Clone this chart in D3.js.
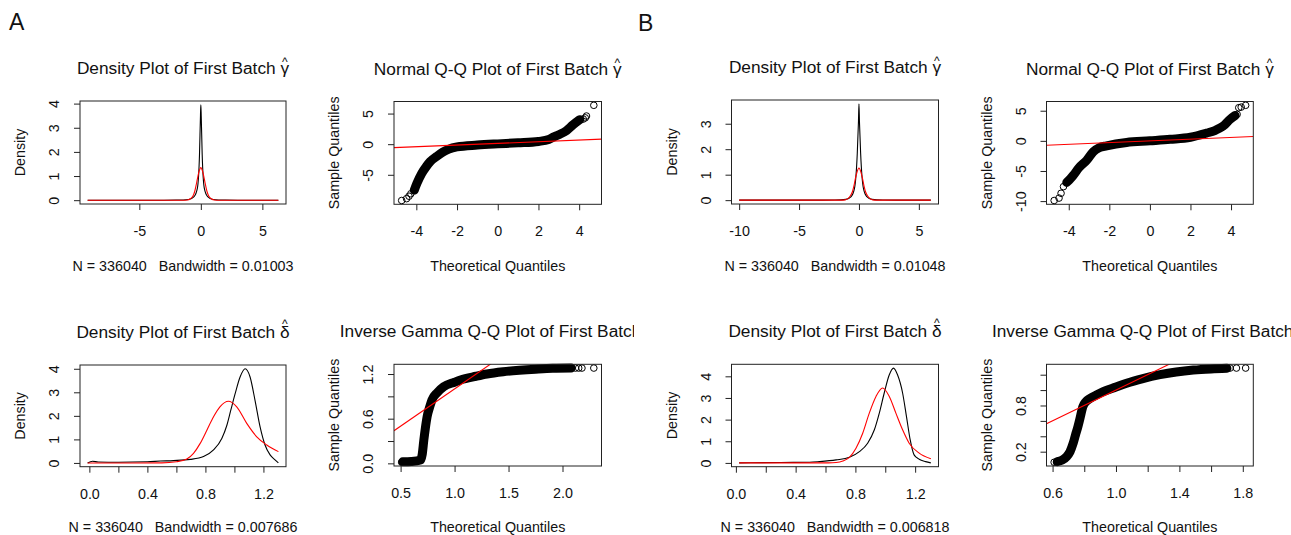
<!DOCTYPE html>
<html>
<head>
<meta charset="utf-8">
<script src="https://cdn.jsdelivr.net/npm/d3@7"></script>
<style>
  body { margin: 0; background: #fff; }
  svg { display: block; }
</style>
</head>
<body>
<svg id="fig" width="1291" height="535"></svg>
<script>
// ================= Panel A =================
// Density of gamma-hat: kernel estimate (black) and fitted normal (red)
const aGammaDensX  = [-9.2, -3, -2, -1, -0.55, -0.28, -0.11, -0.03, 0, 0.03, 0.11, 0.28, 0.55, 1, 2, 3, 6.3];
const aGammaDensY  = [0, 0, 0.005, 0.03, 0.15, 0.5, 1.88, 3.5, 3.95, 3.5, 1.88, 0.5, 0.15, 0.03, 0.005, 0, 0];
const aGammaFitX   = [-9.2, -3, -1.5, -1.1, -0.85, -0.65, -0.5, -0.4, -0.28, -0.15, 0, 0.15, 0.28, 0.4, 0.5, 0.65, 0.85, 1.1, 1.5, 3, 6.3];
const aGammaFitY   = [0, 0, 0, 0.01, 0.06, 0.16, 0.36, 0.58, 0.88, 1.18, 1.35, 1.18, 0.88, 0.58, 0.36, 0.16, 0.06, 0.01, 0, 0, 0];

// Normal Q-Q of gamma-hat: dense band of points plus the sparse tail points
const aGammaQQBandX = [-4.1, -3.97, -3.73, -3.5, -3.32, -3.0, -2.7, -2.4, -2.0, -1.0, 0, 1.0, 2.0, 2.5, 2.73, 3.0, 3.38, 3.7, 4.03];
const aGammaQQBandY = [-7.5, -6.4, -4.75, -3.6, -2.85, -2.0, -1.3, -0.8, -0.45, -0.15, 0.05, 0.22, 0.45, 0.75, 1.15, 1.55, 2.23, 3.16, 4.0];
const aGammaQQTailX = [-4.72, -4.48, -4.36, -4.27, 4.2, 4.3, 4.36, 4.72];
const aGammaQQTailY = [-9.2, -8.9, -8.5, -8.1, 4.1, 4.3, 4.6, 6.35];
const aGammaQQLine  = { intercept: 0.13, slope: 0.136 };

// Density of delta-hat: kernel estimate (black) and fitted inverse gamma (red)
const aDeltaDensX = [-0.012, 0.022, 0.06, 0.2, 0.4, 0.49, 0.58, 0.695, 0.787, 0.856, 0.913, 0.948, 0.975, 1.005, 1.039, 1.074, 1.108, 1.142, 1.177, 1.211, 1.246, 1.28, 1.303];
const aDeltaDensY = [0, 0.07, 0.04, 0.03, 0.05, 0.08, 0.1, 0.15, 0.27, 0.55, 1.04, 1.6, 2.24, 2.94, 3.65, 4.0, 3.65, 2.66, 1.53, 0.76, 0.34, 0.13, 0];
const aDeltaFitX  = [-0.012, 0.3, 0.5, 0.6, 0.672, 0.718, 0.764, 0.81, 0.856, 0.9, 0.959, 1.016, 1.085, 1.154, 1.223, 1.303];
const aDeltaFitY  = [0, 0, 0.002, 0.05, 0.17, 0.41, 0.83, 1.39, 1.96, 2.38, 2.62, 2.38, 1.68, 1.11, 0.76, 0.48];

// Inverse gamma Q-Q of delta-hat
const aDeltaQQBandX = [0.52, 0.6, 0.685, 0.7, 0.715, 0.73, 0.746, 0.77, 0.79, 0.84, 0.9, 1.0, 1.055, 1.2, 1.3, 1.45, 1.6, 1.75, 1.91, 2.08];
const aDeltaQQBandY = [0.02, 0.025, 0.045, 0.12, 0.31, 0.48, 0.63, 0.76, 0.85, 0.95, 1.03, 1.09, 1.12, 1.17, 1.2, 1.23, 1.25, 1.265, 1.277, 1.28];
const aDeltaQQTailX = [0.51, 2.12, 2.15, 2.18, 2.29];
const aDeltaQQTailY = [0.015, 1.28, 1.28, 1.28, 1.28];
const aDeltaQQLine  = { intercept: 0, slope: 1 };

// ================= Panel B =================
const bGammaDensX  = [-10, -3, -2, -1.1, -0.65, -0.37, -0.14, -0.04, 0, 0.04, 0.14, 0.37, 0.65, 1.1, 2, 3, 6.0];
const bGammaDensY  = [0, 0, 0.005, 0.03, 0.14, 0.47, 1.84, 3.1, 3.78, 3.1, 1.84, 0.47, 0.14, 0.03, 0.005, 0, 0];
const bGammaFitX   = [-10, -3, -1.5, -1.15, -0.88, -0.7, -0.54, -0.42, -0.29, -0.15, 0, 0.15, 0.29, 0.42, 0.54, 0.7, 0.88, 1.15, 1.5, 3, 6.0];
const bGammaFitY   = [0, 0, 0, 0.01, 0.08, 0.18, 0.34, 0.56, 0.86, 1.12, 1.26, 1.12, 0.86, 0.56, 0.34, 0.18, 0.08, 0.01, 0, 0, 0];

const bGammaQQBandX = [-4.1, -3.9, -3.77, -3.52, -3.11, -2.79, -2.5, -2.13, -1.15, 0, 1.0, 2.0, 2.79, 3.2, 3.44, 3.7, 3.93, 4.2];
const bGammaQQBandY = [-6.9, -6.2, -5.7, -4.55, -3.2, -1.8, -1.15, -0.83, -0.27, 0.0, 0.25, 0.6, 1.28, 1.7, 2.1, 2.7, 3.5, 4.2];
const bGammaQQTailX = [-4.72, -4.48, -4.38, -4.26, 4.3, 4.38, 4.5, 4.72];
const bGammaQQTailY = [-9.9, -9.5, -8.7, -7.6, 4.4, 5.5, 5.6, 5.9];
const bGammaQQLine  = { intercept: 0, slope: 0.142 };

const bDeltaDensX = [0.022, 0.1, 0.3, 0.493, 0.56, 0.671, 0.76, 0.827, 0.882, 0.927, 0.96, 0.993, 1.027, 1.055, 1.082, 1.116, 1.142, 1.167, 1.193, 1.227, 1.27, 1.305];
const bDeltaDensY = [0, 0.01, 0.02, 0.03, 0.06, 0.14, 0.26, 0.52, 0.91, 1.53, 2.3, 3.23, 4.07, 4.38, 4.07, 3.23, 2.14, 1.06, 0.37, 0.17, 0.06, 0];
const bDeltaFitX  = [0.022, 0.5, 0.62, 0.671, 0.716, 0.76, 0.804, 0.849, 0.893, 0.938, 0.982, 1.027, 1.071, 1.116, 1.16, 1.227, 1.305];
const bDeltaFitY  = [0, 0, 0.003, 0.02, 0.09, 0.26, 0.68, 1.37, 2.3, 3.07, 3.46, 3.07, 2.3, 1.53, 0.91, 0.45, 0.19];

const bDeltaQQBandX = [0.63, 0.66, 0.688, 0.71, 0.73, 0.745, 0.76, 0.775, 0.79, 0.81, 0.836, 0.88, 0.92, 1.0, 1.067, 1.17, 1.278, 1.38, 1.488, 1.6, 1.7];
const bDeltaQQBandY = [0.07, 0.09, 0.135, 0.2, 0.31, 0.42, 0.525, 0.65, 0.78, 0.85, 0.89, 0.94, 0.98, 1.04, 1.09, 1.15, 1.2, 1.235, 1.26, 1.275, 1.283];
const bDeltaQQTailX = [0.61, 0.625, 1.72, 1.76, 1.818];
const bDeltaQQTailY = [0.063, 0.065, 1.286, 1.286, 1.286];
const bDeltaQQLine  = { intercept: 0, slope: 1 };

// ================= Tick values and labels =================
const gammaDensXTicksA = [-5, 0, 5];           const gammaDensXLabelsA = ["-5", "0", "5"];
const gammaDensYTicksA = [0, 1, 2, 3, 4];      const gammaDensYLabelsA = ["0", "1", "2", "3", "4"];
const gammaDensXTicksB = [-10, -5, 0, 5];      const gammaDensXLabelsB = ["-10", "-5", "0", "5"];
const gammaDensYTicksB = [0, 1, 2, 3];         const gammaDensYLabelsB = ["0", "1", "2", "3"];
const normQQXTicks = [-4, -2, 0, 2, 4];        const normQQXLabels = ["-4", "-2", "0", "2", "4"];
const normQQYTicksA = [-5, 0, 5];              const normQQYLabelsA = ["-5", "0", "5"];
const normQQYTicksB = [-10, -5, 0, 5];         const normQQYLabelsB = ["-10", "-5", "0", "5"];
const deltaDensXTicks = [0, 0.2, 0.4, 0.6, 0.8, 1.0, 1.2];
const deltaDensXLabels = ["0.0", "", "0.4", "", "0.8", "", "1.2"];
const deltaDensYTicks = [0, 1, 2, 3, 4];       const deltaDensYLabels = ["0", "1", "2", "3", "4"];
const igQQXTicksA = [0.5, 1.0, 1.5, 2.0];      const igQQXLabelsA = ["0.5", "1.0", "1.5", "2.0"];
const igQQYTicksA = [0, 0.3, 0.6, 0.9, 1.2];   const igQQYLabelsA = ["0.0", "", "0.6", "", "1.2"];
const igQQXTicksB = [0.6, 0.8, 1.0, 1.2, 1.4, 1.6, 1.8];
const igQQXLabelsB = ["0.6", "", "1.0", "", "1.4", "", "1.8"];
const igQQYTicksB = [0.2, 0.4, 0.6, 0.8, 1.0, 1.2];
const igQQYLabelsB = ["0.2", "", "", "0.8", "", ""];

const bandwidthA = ["N = 336040   Bandwidth = 0.01003", "N = 336040   Bandwidth = 0.007686"];
const bandwidthB = ["N = 336040   Bandwidth = 0.01048", "N = 336040   Bandwidth = 0.006818"];

// ================= Drawing =================
const FONT = '"Liberation Sans", Arial, Helvetica, sans-serif';
const INK = "#111";
const AXIS_FS = 14.3, TITLE_FS = 17.3;

const svg = d3.select("#fig");
svg.append("rect").attr("width", 1291).attr("height", 535).attr("fill", "#fff");

const defs = svg.append("defs");
defs.append("clipPath").attr("id", "clipA").append("rect")
  .attr("x", 0).attr("y", 0).attr("width", 634).attr("height", 535);

// R-style 4% range extension
function rRange(values) {
  const [lo, hi] = d3.extent(values);
  const d = (hi - lo) * 0.04;
  return [lo - d, hi + d];
}

function zip(xs, ys) { return xs.map((x, i) => [x, ys[i]]); }

function drawFrame(g, box, x, y, xt, xl, yt, yl) {
  g.append("rect")
    .attr("x", box.x0).attr("y", box.y0)
    .attr("width", box.x1 - box.x0).attr("height", box.y1 - box.y0)
    .attr("fill", "none").attr("stroke", "#222").attr("stroke-width", 1);

  const xa = g.append("g").attr("transform", `translate(0,${box.y1})`)
    .call(d3.axisBottom(x).tickValues(xt).tickSize(6).tickSizeOuter(0)
      .tickFormat((d, i) => xl[i]));
  xa.select(".domain").remove();
  xa.attr("color", "#222").attr("font-family", FONT).attr("font-size", AXIS_FS);
  xa.selectAll("text").attr("y", 32).attr("dy", 0).attr("fill", INK);

  const ya = g.append("g").attr("transform", `translate(${box.x0},0)`)
    .call(d3.axisLeft(y).tickValues(yt).tickSize(6).tickSizeOuter(0)
      .tickFormat((d, i) => yl[i]));
  ya.select(".domain").remove();
  ya.attr("color", "#222").attr("font-family", FONT).attr("font-size", AXIS_FS);
  ya.selectAll("text")
    .attr("x", 0).attr("y", 0).attr("dy", 0)
    .attr("text-anchor", "middle")
    .attr("transform", "translate(-21,0) rotate(-90)")
    .attr("fill", INK);
}

// Title with a hatted Greek symbol at its end
function drawTitle(g, cx, y, main, sym, hatDy) {
  const t = g.append("text")
    .attr("x", cx).attr("y", y)
    .attr("text-anchor", "middle")
    .attr("font-family", FONT).attr("font-size", TITLE_FS).attr("fill", INK)
    .text(main + " " + sym);
  const n = t.text().length;
  const e = t.node().getExtentOfChar(n - 1);
  g.append("text")
    .attr("x", e.x + e.width / 2).attr("y", y + hatDy)
    .attr("text-anchor", "middle")
    .attr("font-family", FONT).attr("font-size", 12).attr("fill", INK)
    .text("^");
}

function drawLabels(g, box, ylab, xlab, xlabDy) {
  const cx = (box.x0 + box.x1) / 2, cy = (box.y0 + box.y1) / 2;
  g.append("text")
    .attr("transform", `translate(${box.x0 - 55},${cy}) rotate(-90)`)
    .attr("text-anchor", "middle")
    .attr("font-family", FONT).attr("font-size", AXIS_FS).attr("fill", INK)
    .text(ylab);
  g.append("text")
    .attr("x", cx).attr("y", box.y1 + xlabDy)
    .attr("text-anchor", "middle")
    .style("white-space", "pre")
    .attr("font-family", FONT).attr("font-size", AXIS_FS).attr("fill", INK)
    .text(xlab);
}

function densityPanel(g, box, p) {
  const x = d3.scaleLinear().domain(rRange(p.kx)).range([box.x0, box.x1]);
  const ymax = d3.max(p.ky);
  const y = d3.scaleLinear().domain([-0.04 * ymax, ymax * 1.04]).range([box.y1, box.y0]);
  const line = d3.line().x(d => x(d[0])).y(d => y(d[1])).curve(d3.curveMonotoneX);
  g.append("path").attr("d", line(zip(p.kx, p.ky)))
    .attr("fill", "none").attr("stroke", "#000").attr("stroke-width", 1.1);
  g.append("path").attr("d", line(zip(p.fx, p.fy)))
    .attr("fill", "none").attr("stroke", "#ff0000").attr("stroke-width", 1.1);
  drawFrame(g, box, x, y, p.xt, p.xl, p.yt, p.yl);
  drawTitle(g, (box.x0 + box.x1) / 2, box.y0 - 27, p.title, p.sym, p.hatDy);
  drawLabels(g, box, "Density", p.sub, p.labDy);
}

function qqPanel(g, box, p) {
  const x = d3.scaleLinear().domain(rRange(p.bx.concat(p.tx))).range([box.x0, box.x1]);
  const y = d3.scaleLinear().domain(rRange(p.by.concat(p.ty))).range([box.y1, box.y0]);
  const clipId = "clip" + p.id;
  defs.append("clipPath").attr("id", clipId).append("rect")
    .attr("x", box.x0).attr("y", box.y0)
    .attr("width", box.x1 - box.x0).attr("height", box.y1 - box.y0);

  // dense run of overlapping open circles
  const line = d3.line().x(d => x(d[0])).y(d => y(d[1])).curve(d3.curveMonotoneX);
  g.append("path").attr("d", line(zip(p.bx, p.by)))
    .attr("fill", "none").attr("stroke", "#000").attr("stroke-width", 9)
    .attr("stroke-linecap", "round").attr("stroke-linejoin", "round");
  // sparse points in the tails
  g.selectAll(null).data(zip(p.tx, p.ty)).enter().append("circle")
    .attr("cx", d => x(d[0])).attr("cy", d => y(d[1])).attr("r", 3.3)
    .attr("fill", "none").attr("stroke", "#000").attr("stroke-width", 1);
  // reference line
  const [d0, d1] = x.domain();
  g.append("line")
    .attr("clip-path", `url(#${clipId})`)
    .attr("x1", x(d0)).attr("y1", y(p.line.intercept + p.line.slope * d0))
    .attr("x2", x(d1)).attr("y2", y(p.line.intercept + p.line.slope * d1))
    .attr("stroke", "#ff0000").attr("stroke-width", 1.1);
  drawFrame(g, box, x, y, p.xt, p.xl, p.yt, p.yl);
  drawTitle(g, (box.x0 + box.x1) / 2, box.y0 - 27, p.title, p.sym, p.hatDy);
  drawLabels(g, box, "Sample Quantiles", "Theoretical Quantiles", p.labDy);
}

// panel regions
const boxA1 = { x0: 80,     x1: 286,    y0: 101,   y1: 204 };
const boxA2 = { x0: 394,    x1: 601.5,  y0: 101.5, y1: 204.3 };
const boxA3 = { x0: 80,     x1: 286,    y0: 365,   y1: 466.7 };
const boxA4 = { x0: 394,    x1: 601.5,  y0: 364.3, y1: 466 };
const boxB1 = { x0: 731.5,  x1: 938.5,  y0: 100,   y1: 204 };
const boxB2 = { x0: 1046.5, x1: 1253.3, y0: 101.5, y1: 204.3 };
const boxB3 = { x0: 731.5,  x1: 938.5,  y0: 364.3, y1: 466.7 };
const boxB4 = { x0: 1046.5, x1: 1253.3, y0: 364.3, y1: 466 };

const gA = svg.append("g").attr("clip-path", "url(#clipA)");
const gB = svg.append("g");

densityPanel(gA.append("g"), boxA1, {
  kx: aGammaDensX, ky: aGammaDensY, fx: aGammaFitX, fy: aGammaFitY,
  xt: gammaDensXTicksA, xl: gammaDensXLabelsA, yt: gammaDensYTicksA, yl: gammaDensYLabelsA,
  title: "Density Plot of First Batch", sym: "γ", hatDy: -8, sub: bandwidthA[0], labDy: 67
});
qqPanel(gA.append("g"), boxA2, {
  id: "A2", bx: aGammaQQBandX, by: aGammaQQBandY, tx: aGammaQQTailX, ty: aGammaQQTailY, line: aGammaQQLine,
  xt: normQQXTicks, xl: normQQXLabels, yt: normQQYTicksA, yl: normQQYLabelsA,
  title: "Normal Q-Q Plot of First Batch", sym: "γ", hatDy: -8, labDy: 67
});
densityPanel(gA.append("g"), boxA3, {
  kx: aDeltaDensX, ky: aDeltaDensY, fx: aDeltaFitX, fy: aDeltaFitY,
  xt: deltaDensXTicks, xl: deltaDensXLabels, yt: deltaDensYTicks, yl: deltaDensYLabels,
  title: "Density Plot of First Batch", sym: "δ", hatDy: -10.5, sub: bandwidthA[1], labDy: 65.5
});
qqPanel(gA.append("g"), boxA4, {
  id: "A4", bx: aDeltaQQBandX, by: aDeltaQQBandY, tx: aDeltaQQTailX, ty: aDeltaQQTailY, line: aDeltaQQLine,
  xt: igQQXTicksA, xl: igQQXLabelsA, yt: igQQYTicksA, yl: igQQYLabelsA,
  title: "Inverse Gamma Q-Q Plot of First Batch", sym: "δ", hatDy: -10.5, labDy: 65.5
});

densityPanel(gB.append("g"), boxB1, {
  kx: bGammaDensX, ky: bGammaDensY, fx: bGammaFitX, fy: bGammaFitY,
  xt: gammaDensXTicksB, xl: gammaDensXLabelsB, yt: gammaDensYTicksB, yl: gammaDensYLabelsB,
  title: "Density Plot of First Batch", sym: "γ", hatDy: -8, sub: bandwidthB[0], labDy: 67
});
qqPanel(gB.append("g"), boxB2, {
  id: "B2", bx: bGammaQQBandX, by: bGammaQQBandY, tx: bGammaQQTailX, ty: bGammaQQTailY, line: bGammaQQLine,
  xt: normQQXTicks, xl: normQQXLabels, yt: normQQYTicksB, yl: normQQYLabelsB,
  title: "Normal Q-Q Plot of First Batch", sym: "γ", hatDy: -8, labDy: 67
});
densityPanel(gB.append("g"), boxB3, {
  kx: bDeltaDensX, ky: bDeltaDensY, fx: bDeltaFitX, fy: bDeltaFitY,
  xt: deltaDensXTicks, xl: deltaDensXLabels, yt: deltaDensYTicks, yl: deltaDensYLabels,
  title: "Density Plot of First Batch", sym: "δ", hatDy: -10.5, sub: bandwidthB[1], labDy: 65.5
});
qqPanel(gB.append("g"), boxB4, {
  id: "B4", bx: bDeltaQQBandX, by: bDeltaQQBandY, tx: bDeltaQQTailX, ty: bDeltaQQTailY, line: bDeltaQQLine,
  xt: igQQXTicksB, xl: igQQXLabelsB, yt: igQQYTicksB, yl: igQQYLabelsB,
  title: "Inverse Gamma Q-Q Plot of First Batch", sym: "δ", hatDy: -10.5, labDy: 65.5
});

// panel letters
svg.append("text").attr("x", 9).attr("y", 30)
  .attr("font-family", FONT).attr("font-size", 23).attr("fill", INK).text("A");
svg.append("text").attr("x", 638).attr("y", 31)
  .attr("font-family", FONT).attr("font-size", 23).attr("fill", INK).text("B");
</script>
</body>
</html>
